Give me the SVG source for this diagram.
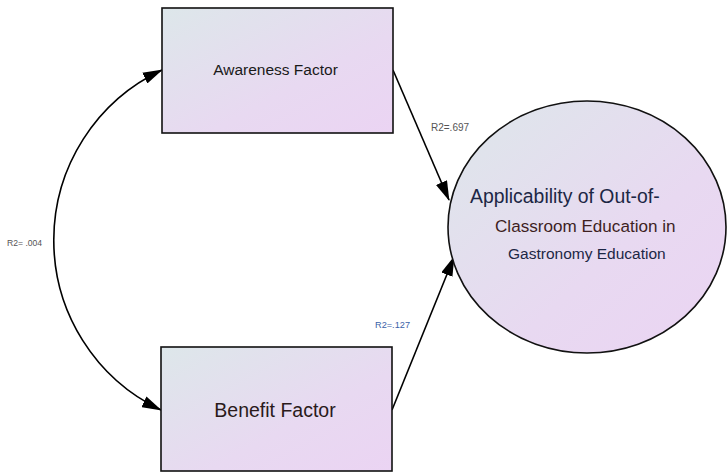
<svg xmlns="http://www.w3.org/2000/svg" width="728" height="473" viewBox="0 0 728 473">
  <style>
    .box { stroke: #111; stroke-width: 1.6; }
    .link { fill: none; stroke: #000; stroke-width: 1.6; }
    .lbl { font-family: "Liberation Sans", Arial, sans-serif; }
  </style>
  <defs>
    <linearGradient id="fillGrad" x1="0" y1="0" x2="1" y2="1">
      <stop offset="0" stop-color="#dde7ea"/>
      <stop offset="0.6" stop-color="#e8d9f1"/>
      <stop offset="1" stop-color="#ebd4f3"/>
    </linearGradient>
    <marker id="arrow" viewBox="0 0 20 12" refX="19" refY="6" markerWidth="20" markerHeight="12" markerUnits="userSpaceOnUse" orient="auto-start-reverse">
      <path d="M0,0 L20,6 L0,12 Z" fill="#000"/>
    </marker>
  </defs>

  <!-- connectors -->
  <g id="connectors">
    <path class="link" d="M162,70 A188,188 0 0 0 161,410" marker-start="url(#arrow)" marker-end="url(#arrow)"/>
    <line class="link" x1="393" y1="70" x2="449" y2="200" marker-end="url(#arrow)"/>
    <line class="link" x1="392" y1="410" x2="454" y2="257" marker-end="url(#arrow)"/>
    <text class="lbl" x="7" y="246" font-size="8.6" fill="#555">R2= .004</text>
    <text class="lbl" x="431" y="131" font-size="10" fill="#555">R2=.697</text>
    <text class="lbl" x="375" y="328" font-size="9.2" fill="#3b62a8">R2=.127</text>
  </g>

  <!-- Awareness Factor -->
  <g id="awareness">
    <rect class="box" x="162" y="8" width="231" height="125" fill="url(#fillGrad)"/>
    <text class="lbl" x="275.5" y="75" font-size="15.5" fill="#1a1a1a" text-anchor="middle">Awareness Factor</text>
  </g>

  <!-- Benefit Factor -->
  <g id="benefit">
    <rect class="box" x="161" y="347" width="231" height="124" fill="url(#fillGrad)"/>
    <text class="lbl" x="275" y="417" font-size="19.5" fill="#2a1a1a" text-anchor="middle">Benefit Factor</text>
  </g>

  <!-- Applicability outcome -->
  <g id="applicability">
    <ellipse class="box" cx="587" cy="227" rx="139" ry="126" fill="url(#fillGrad)"/>
    <text class="lbl" x="470" y="203" font-size="19.4" fill="#1c2745">Applicability of Out-of-</text>
    <text class="lbl" x="495" y="232" font-size="17.1" fill="#3e1f1f">Classroom Education in</text>
    <text class="lbl" x="508" y="259" font-size="15.5" fill="#1c2745">Gastronomy Education</text>
  </g>
</svg>
